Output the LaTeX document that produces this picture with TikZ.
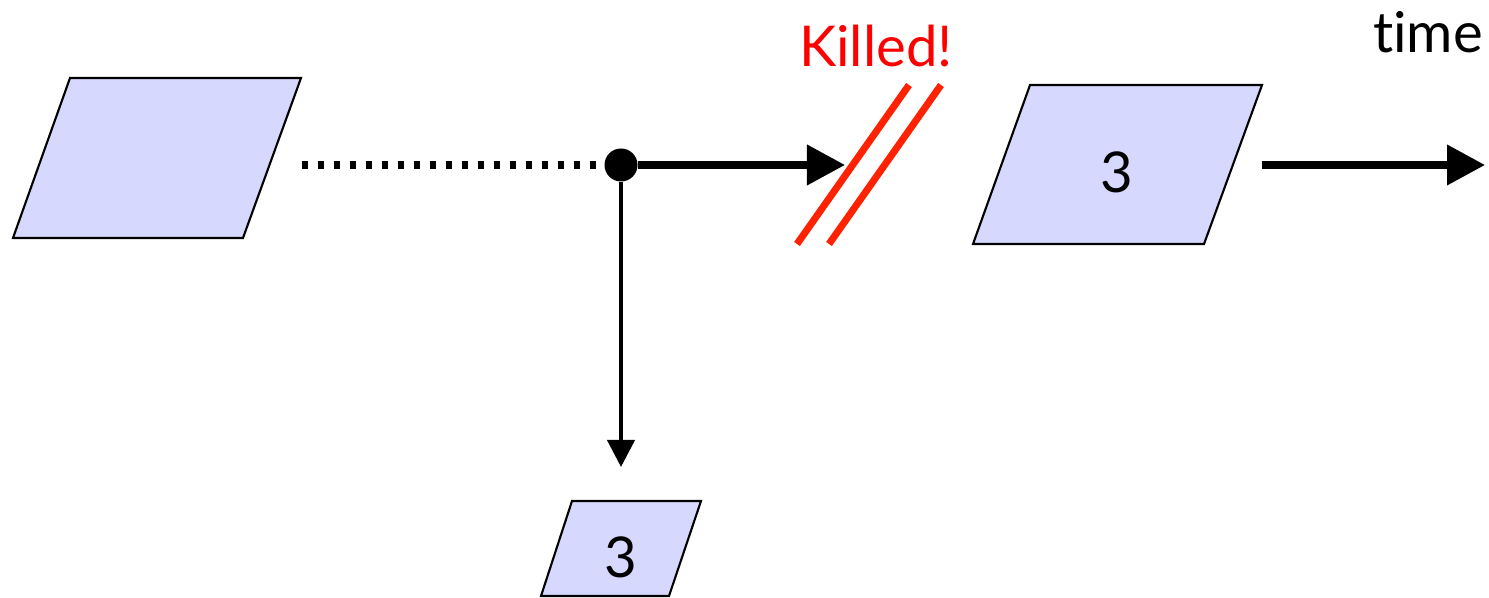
\documentclass[tikz,border=0pt]{standalone}
\usepackage{fontspec}
\setmainfont{Lato}[Ligatures=NoCommon]
\usetikzlibrary{arrows.meta}

\definecolor{msgblue}{RGB}{214,216,253}
\definecolor{killred}{RGB}{255,34,0}

\tikzset{
  msg/.style = {fill=msgblue, draw=black, line width=0.6pt},
  lbl/.style = {font=\fontsize{16}{18}\selectfont},
  dot/.style = {circle, fill=black, inner sep=0pt, minimum size=0.33cm},
  bigarrow/.style = {line width=2pt, -{Triangle[length=0.38cm, width=0.39cm]}},
  thinarrow/.style = {line width=1.2pt, -{Triangle[length=0.27cm, width=0.27cm]}},
  dottedline/.style = {line width=2pt, dash pattern=on 0.06cm off 0.10cm},
  kill/.style = {killred, line width=2pt}
}

\begin{document}
\begin{tikzpicture}[x=0.01cm, y=-0.01cm]
  \useasboundingbox (0,0) rectangle (1489,598);

  % messages
  \filldraw[msg] (70,78) -- (301,78) -- (243,238) -- (13,238) -- cycle;
  \filldraw[msg] (1030,85) -- (1262,85) -- (1204,244) -- (973,244) -- cycle;
  \filldraw[msg] (572,501) -- (701,501) -- (669,596) -- (541,596) -- cycle;
  \node[lbl] (later) at (1117,172) {3};
  \node[lbl] (copy) at (621,557) {3};

  % fork point and arrow ends
  \coordinate (tail) at (302,165);
  \node[dot] (fork) at (621,165) {};
  \coordinate (cut) at (845,165);
  \coordinate (down) at (621,467);
  \coordinate (tstart) at (1262,165);
  \coordinate (tend) at (1485,165);

  \draw[dottedline] (tail) -- (fork.west);
  \draw[bigarrow] (fork) -- (cut);
  \draw[thinarrow] (fork) -- (down);
  \draw[bigarrow] (tstart) -- (tend);

  % cut marks
  \draw[kill] (797,244) -- (909,85);
  \draw[kill] (829,244) -- (941,85);
  \node[lbl, text=red] (killed) at (876,46) {Killed!};
  \node[lbl] (time) at (1428,32) {time};
\end{tikzpicture}
\end{document}
